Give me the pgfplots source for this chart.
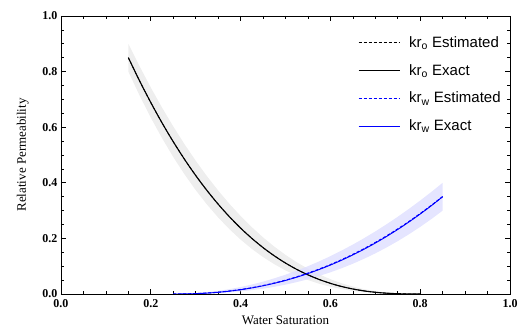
\documentclass[border=0pt]{standalone}
\usepackage{fontspec}
\setmainfont{Liberation Serif}
\newfontfamily\legfont{Liberation Sans}
\usepackage{pgfplots}
\pgfplotsset{compat=1.18}
\usepgfplotslibrary{fillbetween}
\usetikzlibrary{calc}
\definecolor{grayband}{RGB}{236,236,236}
\definecolor{blueband}{RGB}{222,222,255}
\begin{document}
\begin{tikzpicture}
\begin{axis}[
  scale only axis, width=449pt, height=278pt,
  xmin=0, xmax=1, ymin=0, ymax=1,
  xtick={0,0.2,...,1.0}, ytick={0,0.2,...,1.0},
  minor x tick num=3, minor y tick num=3,
  tick align=inside,
  major tick length=5pt, minor tick length=3pt,
  axis line style={line width=0.9pt},
  tick style={line width=0.6pt, black},
  /pgf/number format/assume math mode=true,
  xticklabel style={/pgf/number format/.cd, fixed, fixed zerofill, precision=1},
  yticklabel style={/pgf/number format/.cd, fixed, fixed zerofill, precision=1},
  ticklabel style={font=\fontsize{12}{14}\selectfont\bfseries},
  xticklabel shift=1.5pt,
  xlabel={Water Saturation}, ylabel={Relative Permeability},
  label style={font=\fontsize{13}{15}\selectfont},
  xlabel style={yshift=-2pt},
  ylabel style={yshift=7pt},
  legend style={at={(0.984,0.935)}, anchor=north east, draw=none, fill=none,
    font=\legfont\fontsize{15}{17}\selectfont, row sep=11.5pt, inner sep=0pt},
  legend cell align=left,
  legend image code/.code={\draw[#1] (0pt,0pt) -- (41pt,0pt); \path (48pt,0pt);},
]
% bands
\addplot[name path=kroU, draw=none, forget plot] coordinates {
(0.15,0.9)(0.175,0.8192)(0.2,0.7427)(0.225,0.6706)(0.25,0.6027)(0.275,0.5390)(0.3,0.4794)(0.325,0.4239)(0.35,0.3723)(0.375,0.3245)(0.4,0.2807)(0.425,0.2404)(0.45,0.2037)(0.475,0.1705)(0.5,0.1407)(0.525,0.1142)(0.55,0.0908)(0.575,0.0705)(0.6,0.0532)(0.625,0.0386)(0.65,0.0267)(0.675,0.0172)(0.7,0.0101)(0.725,0.0050)(0.75,0.0019)(0.775,0.0003)(0.8,0)};
\addplot[name path=kroL, draw=none, forget plot] coordinates {
(0.15,0.8)(0.175,0.7140)(0.2,0.6343)(0.225,0.5607)(0.25,0.4928)(0.275,0.4306)(0.3,0.3737)(0.325,0.3221)(0.35,0.2754)(0.375,0.2333)(0.4,0.1957)(0.425,0.1623)(0.45,0.1329)(0.475,0.1072)(0.5,0.0849)(0.525,0.0660)(0.55,0.0501)(0.575,0.0369)(0.6,0.0262)(0.625,0.0178)(0.65,0.0114)(0.675,0.0067)(0.7,0.0035)(0.725,0.0015)(0.75,0.0005)(0.775,0)(0.8,0)};
\addplot[grayband, opacity=0.9, forget plot] fill between[of=kroU and kroL];
\addplot[name path=krwU, draw=none, forget plot] coordinates {
(0.25,0)(0.275,0.0007)(0.3,0.0028)(0.325,0.0063)(0.35,0.0111)(0.375,0.0174)(0.4,0.025)(0.425,0.0340)(0.45,0.0444)(0.475,0.0563)(0.5,0.0694)(0.525,0.0840)(0.55,0.1)(0.575,0.1174)(0.6,0.1361)(0.625,0.1563)(0.65,0.1778)(0.675,0.2007)(0.7,0.225)(0.725,0.2507)(0.75,0.2778)(0.775,0.3063)(0.8,0.3361)(0.825,0.3674)(0.85,0.4)};
\addplot[name path=krwL, draw=none, forget plot] coordinates {
(0.25,0)(0.275,0.0001)(0.3,0.0006)(0.325,0.0017)(0.35,0.0034)(0.375,0.0059)(0.4,0.0094)(0.425,0.0138)(0.45,0.0192)(0.475,0.0258)(0.5,0.0336)(0.525,0.0427)(0.55,0.0530)(0.575,0.0648)(0.6,0.0780)(0.625,0.0926)(0.65,0.1089)(0.675,0.1267)(0.7,0.1461)(0.725,0.1673)(0.75,0.1902)(0.775,0.2149)(0.8,0.2414)(0.825,0.2697)(0.85,0.3)};
\addplot[blueband, opacity=0.8, forget plot] fill between[of=krwU and krwL];
% curves
\addplot[black, line width=0.8pt, dash pattern=on 3pt off 2pt, smooth] coordinates {
(0.15,0.85)(0.175,0.7667)(0.2,0.6887)(0.225,0.6157)(0.25,0.5478)(0.275,0.4847)(0.3,0.4263)(0.325,0.3725)(0.35,0.3232)(0.375,0.2781)(0.4,0.2371)(0.425,0.2001)(0.45,0.1669)(0.475,0.1374)(0.5,0.1113)(0.525,0.0885)(0.55,0.0689)(0.575,0.0522)(0.6,0.0383)(0.625,0.0269)(0.65,0.0180)(0.675,0.0111)(0.7,0.0062)(0.725,0.0029)(0.75,0.0010)(0.775,0.0002)(0.8,0)};
\addlegendentry{kr\textsubscript{o} Estimated}
\addplot[black, line width=1.1pt, smooth] coordinates {
(0.15,0.85)(0.175,0.7667)(0.2,0.6887)(0.225,0.6157)(0.25,0.5478)(0.275,0.4847)(0.3,0.4263)(0.325,0.3725)(0.35,0.3232)(0.375,0.2781)(0.4,0.2371)(0.425,0.2001)(0.45,0.1669)(0.475,0.1374)(0.5,0.1113)(0.525,0.0885)(0.55,0.0689)(0.575,0.0522)(0.6,0.0383)(0.625,0.0269)(0.65,0.0180)(0.675,0.0111)(0.7,0.0062)(0.725,0.0029)(0.75,0.0010)(0.775,0.0002)(0.8,0)};
\addlegendentry{kr\textsubscript{o} Exact}
\addplot[color=blue, line width=1.1pt, dash pattern=on 3pt off 2pt, smooth] coordinates {
(0.25,0)(0.275,0.0003)(0.3,0.0013)(0.325,0.0034)(0.35,0.0064)(0.375,0.0106)(0.4,0.0159)(0.425,0.0224)(0.45,0.0302)(0.475,0.0393)(0.5,0.0497)(0.525,0.0616)(0.55,0.0749)(0.575,0.0896)(0.6,0.1057)(0.625,0.1233)(0.65,0.1424)(0.675,0.1630)(0.7,0.1851)(0.725,0.2088)(0.75,0.2340)(0.775,0.2608)(0.8,0.2892)(0.825,0.3190)(0.85,0.3505)};
\addlegendentry{kr\textsubscript{w} Estimated}
\addplot[color=blue, line width=0.9pt, smooth] coordinates {
(0.25,0)(0.275,0.0003)(0.3,0.0013)(0.325,0.0033)(0.35,0.0062)(0.375,0.0103)(0.4,0.0155)(0.425,0.0219)(0.45,0.0296)(0.475,0.0385)(0.5,0.0488)(0.525,0.0605)(0.55,0.0736)(0.575,0.0881)(0.6,0.1041)(0.625,0.1216)(0.65,0.1406)(0.675,0.1611)(0.7,0.1832)(0.725,0.2069)(0.75,0.2322)(0.775,0.2592)(0.8,0.2878)(0.825,0.3180)(0.85,0.35)};
\addlegendentry{kr\textsubscript{w} Exact}
\end{axis}
\pgfresetboundingbox
\useasboundingbox ($(current axis.south west)+(-61pt,-40pt)$) rectangle ($(current axis.north east)+(13pt,16pt)$);
\end{tikzpicture}
\end{document}
